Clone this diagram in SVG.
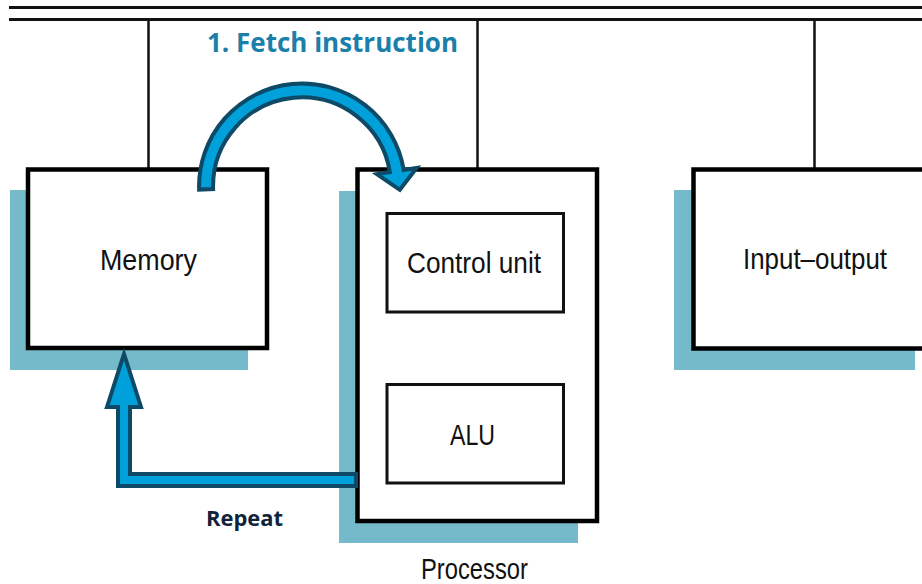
<svg xmlns="http://www.w3.org/2000/svg" width="922" height="584" viewBox="0 0 922 584">
  <style>
    .bus { stroke: #111; stroke-width: 3; fill: none; }
    .tap { stroke: #111; stroke-width: 2.5; fill: none; }
    .shadow { fill: #75BACB; }
    .box { fill: #fff; stroke: #000; stroke-width: 4.5; }
    .inner { fill: #fff; stroke: #111; stroke-width: 3; }
    .lbl { font-family: "Liberation Sans", Arial, sans-serif; font-size: 30px; fill: #111; }
    .flow { fill: #00A1DA; stroke: #0C4A67; stroke-width: 4; stroke-linejoin: miter; }
    .step { font-family: "Open Sans", "Noto Sans", sans-serif; font-weight: bold; }
  </style>

  <rect width="922" height="584" fill="#fff"/>

  <!-- system bus -->
  <g id="bus">
    <line class="bus" x1="9" y1="7.5" x2="922" y2="7.5"/>
    <line class="bus" x1="9" y1="19.5" x2="922" y2="19.5"/>
  </g>

  <!-- bus taps down to each unit -->
  <g id="connectors">
    <line class="tap" x1="148.5" y1="20" x2="148.5" y2="168"/>
    <line class="tap" x1="477.5" y1="20" x2="477.5" y2="168"/>
    <line class="tap" x1="814.5" y1="20" x2="814.5" y2="168"/>
  </g>

  <g id="memory">
    <rect class="shadow" x="10" y="190" width="238" height="180"/>
    <rect class="box" x="28" y="169.5" width="239" height="178.5"/>
    <text class="lbl" x="100" y="269.5" textLength="97" lengthAdjust="spacingAndGlyphs">Memory</text>
  </g>

  <g id="processor">
    <rect class="shadow" x="339" y="191" width="239" height="352"/>
    <rect class="box" x="357.5" y="169.5" width="239.5" height="351.5"/>
    <text class="lbl" x="421" y="579" textLength="107" lengthAdjust="spacingAndGlyphs">Processor</text>
  </g>

  <g id="control-unit">
    <rect class="inner" x="387" y="213.5" width="176.5" height="98.5"/>
    <text class="lbl" x="407" y="273" textLength="134" lengthAdjust="spacingAndGlyphs">Control unit</text>
  </g>

  <g id="alu">
    <rect class="inner" x="387" y="384.5" width="176.5" height="98.5"/>
    <text class="lbl" x="450" y="445" textLength="45" lengthAdjust="spacingAndGlyphs">ALU</text>
  </g>

  <g id="input-output">
    <rect class="shadow" x="674" y="190" width="241" height="180"/>
    <rect class="box" x="693.5" y="169.5" width="240" height="179"/>
    <text class="lbl" x="743" y="269" textLength="144" lengthAdjust="spacingAndGlyphs">Input–output</text>
  </g>

  <!-- instruction cycle arrows -->
  <g id="cycle">
    <path class="flow" d="M 199.1 189.6 A 103 103 0 0 1 403.7 169.9 L 416.6 167.9 L 399.8 189.8 L 377 174.1 L 389.9 172.1 A 89 89 0 0 0 213.1 189.1 Z"/>
    <path class="flow" d="M 356 474 L 130 474 L 130 407 L 141 407 L 124 354 L 107 407 L 118 407 L 118 486 L 356 486 Z"/>
    <text class="step" x="207" y="52" font-size="26" fill="#1A80AA" textLength="251" lengthAdjust="spacingAndGlyphs">1. Fetch instruction</text>
    <text class="step" x="206" y="526" font-size="21" fill="#10233A" textLength="77" lengthAdjust="spacingAndGlyphs">Repeat</text>
  </g>
</svg>
